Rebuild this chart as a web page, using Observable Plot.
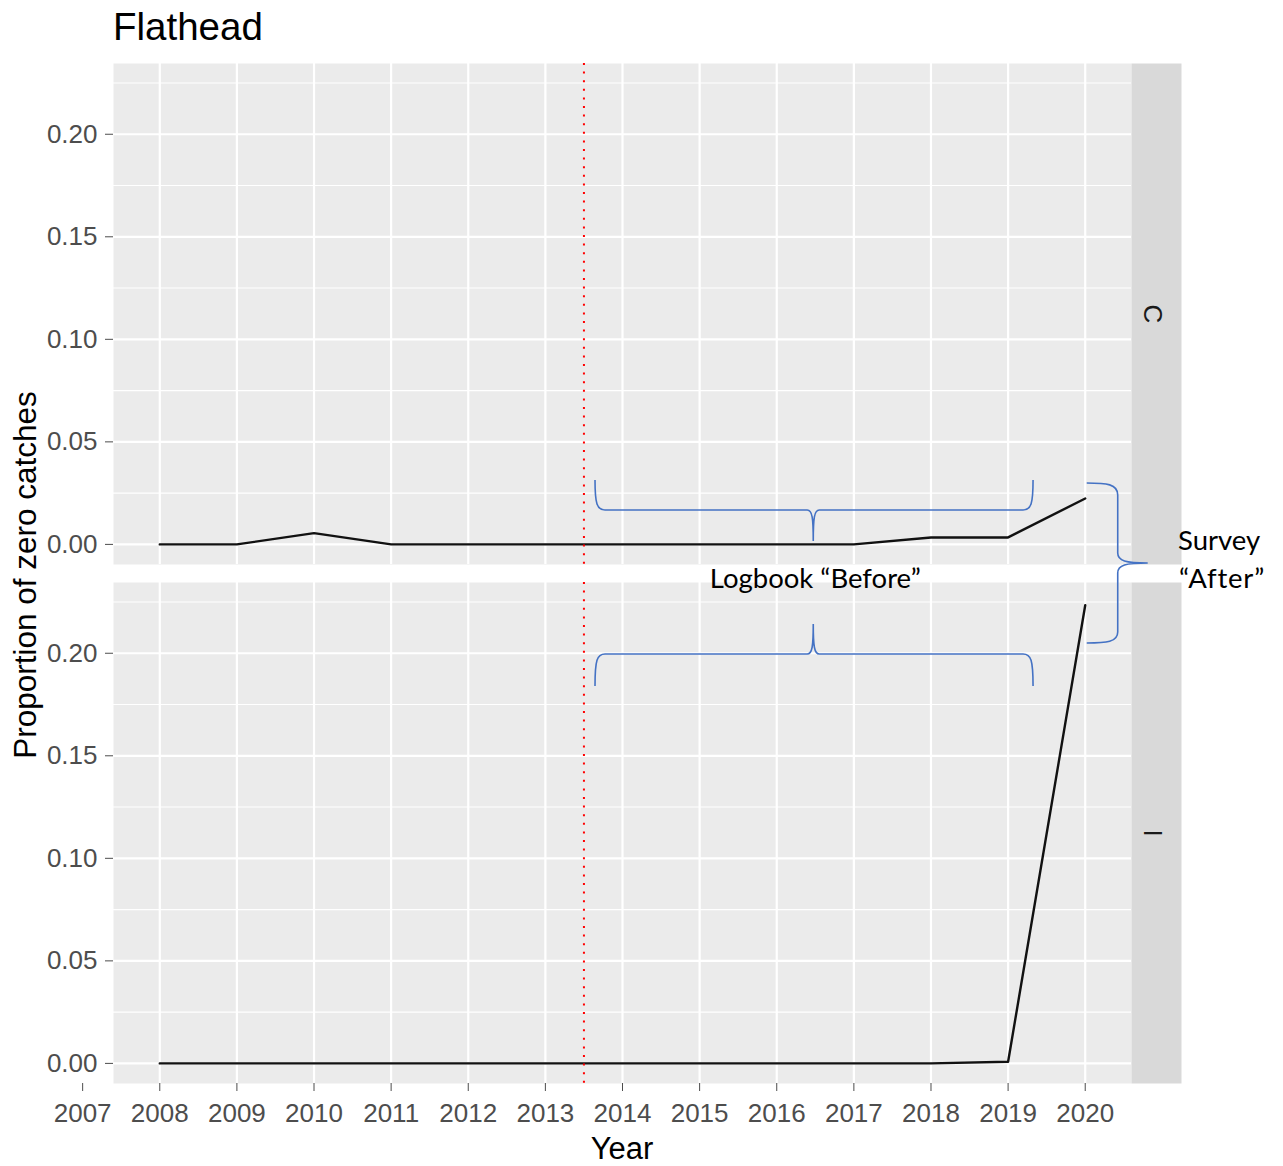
<!DOCTYPE html>
<html><head><meta charset="utf-8">
<script src="https://cdn.jsdelivr.net/npm/d3@7"></script>
<script src="https://cdn.jsdelivr.net/npm/@observablehq/plot@0.6"></script>
<style>
body{margin:0;background:#fff;}
#wrap{position:relative;width:1283px;height:1166px;font-family:"Liberation Sans",Arial,sans-serif;}
#wrap > svg{position:absolute;left:0;top:0;}
</style></head><body><div id="wrap"></div>
<script>
// ---- data ----
const years = [2008,2009,2010,2011,2012,2013,2014,2015,2016,2017,2018,2019,2020];
const panels = ["C","I"];
const zeroC = [0,0,0.0055,0,0,0,0,0,0,0,0.0034,0.0034,0.0224];
const zeroI = [0,0,0,0,0,0,0,0,0,0,0,0.0008,0.2234];
const xTicks = [2007,2008,2009,2010,2011,2012,2013,2014,2015,2016,2017,2018,2019,2020];
const yTicks = [0,0.05,0.10,0.15,0.20];
const yMinor = [0.025,0.075,0.125,0.175,0.225];
const changeYear = [2013.5];
const titleText = "Flathead";
const xTitle = "Year";
const yTitle = "Proportion of zero catches";
const beforeLabel = "Logbook \u201cBefore\u201d";
const afterLabel = ["Survey", "\u201cAfter\u201d"];
const beforeSpan = [2013.65, 2016.48, 2019.33]; // brace start, tip, end (years)

const rows = [];
years.forEach((yr, i) => {
  rows.push({panel: "C", year: yr, value: zeroC[i]});
  rows.push({panel: "I", year: yr, value: zeroI[i]});
});

const plot = Plot.plot({
  width: 1283, height: 1166,
  marginLeft: 113, marginRight: 152, marginTop: 62, marginBottom: 82,
  style: {background: "transparent", fontFamily: "'Liberation Sans', Arial, sans-serif", overflow: "visible"},
  x: {domain: [2007.4, 2020.6]},
  y: {domain: [-0.0098, 0.2345]},
  fy: {domain: panels, paddingInner: 0.0346, paddingOuter: 0, axis: null},
  marks: [
    Plot.frame({fill: "#ebebeb"}),
    Plot.frame({fill: "#d9d9d9", insetLeft: 1018, insetRight: -50}),
    Plot.gridY(yMinor, {stroke: "white", strokeOpacity: 1, strokeWidth: 1.1}),
    Plot.gridY(yTicks, {stroke: "white", strokeOpacity: 1, strokeWidth: 2.2}),
    Plot.gridX(years, {stroke: "white", strokeOpacity: 1, strokeWidth: 2.2}),
    Plot.line(rows, {x: "year", y: "value", fy: "panel", z: "panel", stroke: "#111", strokeWidth: 2.4}),
    Plot.ruleX(changeYear, {stroke: "red", strokeWidth: 2, strokeDasharray: "2,6.6"}),
    Plot.axisY(yTicks, {tickFormat: d3.format(".2f"), tickSize: 8, tickPadding: 8, fontSize: 26, color: "#4d4d4d", label: null}),
    Plot.axisX(xTicks, {tickFormat: d => String(d), tickSize: 8, tickPadding: 12, fontSize: 26, color: "#4d4d4d", label: null}),
    Plot.text(panels, {fy: d => d, text: d => d, frameAnchor: "right", textAnchor: "middle", dx: 21, rotate: 90, fontSize: 26, fill: "#1a1a1a"})
  ]
});
const wrap = document.getElementById("wrap");
wrap.appendChild(plot);

// ---- overlay: titles and hand-drawn annotations ----
const X = plot.scale("x");
const ov = d3.select(wrap).append("svg").attr("width", 1283).attr("height", 1166)
  .style("pointer-events", "none");
ov.append("text").attr("x", 113).attr("y", 40).attr("font-size", 38.5)
  .attr("font-family", "'Liberation Sans', Arial, sans-serif").attr("fill", "#000").text(titleText);
ov.append("text").attr("x", 622).attr("y", 1159).attr("text-anchor", "middle").attr("font-size", 31)
  .attr("font-family", "'Liberation Sans', Arial, sans-serif").attr("fill", "#000").text(xTitle);
ov.append("text").attr("transform", "translate(36,575) rotate(-90)").attr("text-anchor", "middle").attr("font-size", 31.5)
  .attr("font-family", "'Liberation Sans', Arial, sans-serif").attr("fill", "#000").text(yTitle);

const blue = "#4472C4";
const [xa, xm, xb] = beforeSpan.map(v => X.apply(v));
function hBrace(yEnd, yH, yTip) {
  const s = Math.sign(yTip - yH);
  return `M${xa},${yEnd} C${xa},${yH - s*6} ${xa+2},${yH} ${xa+10},${yH} L${xm-6},${yH} C${xm-1},${yH} ${xm},${yH + s*8} ${xm},${yTip}` +
         ` M${xm},${yTip} C${xm},${yH + s*8} ${xm+1},${yH} ${xm+6},${yH} L${xb-10},${yH} C${xb-2},${yH} ${xb},${yH - s*6} ${xb},${yEnd}`;
}
ov.append("path").attr("d", hBrace(480, 510, 541)).attr("fill", "none").attr("stroke", blue).attr("stroke-width", 1.6);
ov.append("path").attr("d", hBrace(686, 654, 624)).attr("fill", "none").attr("stroke", blue).attr("stroke-width", 1.6);
const xe = X.apply(2020) + 2, xs = xe + 31, xt = xs + 30;
ov.append("path").attr("d",
  `M${xe},483 C${xe+20},483 ${xs},484 ${xs},495 L${xs},553 C${xs},561 ${xs+8},563 ${xt},563` +
  ` M${xt},563 C${xs+8},563 ${xs},565 ${xs},573 L${xs},632 C${xs},642 ${xe+20},643 ${xe},643`)
  .attr("fill", "none").attr("stroke", blue).attr("stroke-width", 1.6);

const annFont = "Lato, 'Open Sans', sans-serif";
ov.append("text").attr("x", xm + 2).attr("y", 588).attr("text-anchor", "middle").attr("font-size", 27.5)
  .attr("font-family", annFont).attr("fill", "#000").text(beforeLabel);
ov.append("text").attr("x", 1178).attr("y", 550).attr("font-size", 27.5)
  .attr("font-family", annFont).attr("fill", "#000").text(afterLabel[0]);
ov.append("text").attr("x", 1179).attr("y", 588).attr("font-size", 27.5).attr("letter-spacing", 0.8)
  .attr("font-family", annFont).attr("fill", "#000").text(afterLabel[1]);
</script></body></html>
